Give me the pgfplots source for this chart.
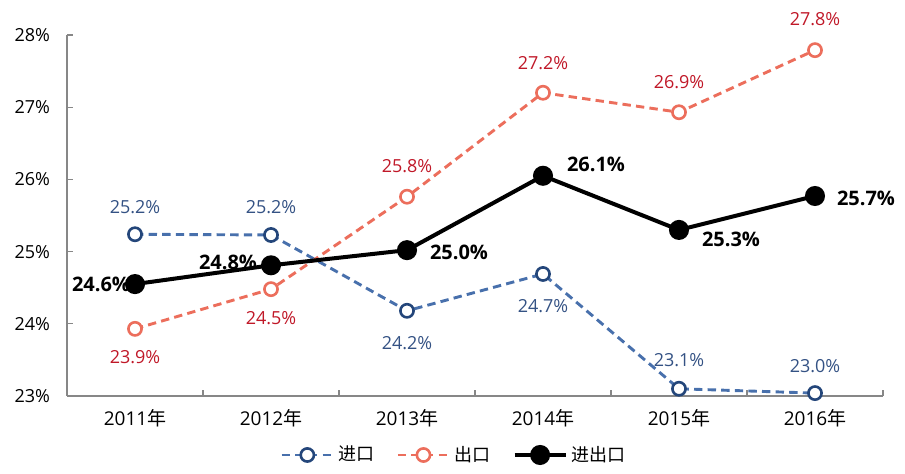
\documentclass[border=0pt]{standalone}
\usepackage{pgfplots}
\pgfplotsset{compat=1.18}
\usepackage{pgfplotstable}
\usepackage{fontspec}
\setmainfont{Open Sans}
\newfontfamily\cjk{Noto Sans CJK SC}
\definecolor{bline}{RGB}{72,112,172}
\definecolor{bmark}{RGB}{36,70,122}
\definecolor{blab}{RGB}{52,82,132}
\definecolor{oline}{RGB}{236,110,92}
\definecolor{olab}{RGB}{192,24,40}
\definecolor{axgray}{RGB}{135,135,135}

\pgfplotstableread{
x y lab dx dy
0 25.24 25.2 0 13.5
1 25.23 25.2 0 14
2 24.18 24.2 0 -16
3 24.69 24.7 0 -16
4 23.10 23.1 0 14.5
5 23.04 23.0 0 13.5
}\imp
\pgfplotstableread{
x y lab dx dy
0 23.93 23.9 0 -14
1 24.48 24.5 0 -14.5
2 25.76 25.8 0 15.5
3 27.20 27.2 0 15
4 26.93 26.9 0 15
5 27.79 27.8 0 15.5
}\exp
\pgfplotstableread{
x y lab dx dy
0 24.55 24.6 -17 0
1 24.81 24.8 -21.5 1.5
2 25.02 25.0 26 -1
3 26.05 26.1 26.5 5.5
4 25.30 25.3 26 -4.5
5 25.77 25.7 25.5 -1
}\tot

\begin{document}
\begin{tikzpicture}
\begin{axis}[
  name=ax,
  scale only axis=true,
  width=408pt, height=180.5pt,
  xmin=-0.5, xmax=5.5,
  ymin=23, ymax=28,
  axis x line*=bottom, axis y line*=left,
  axis line style={axgray, line width=0.6pt, -},
  xtick={0,1,2,3,4,5},
  xticklabels={2011{\cjk 年},2012{\cjk 年},2013{\cjk 年},2014{\cjk 年},2015{\cjk 年},2016{\cjk 年}},
  major x tick style={draw=none},
  minor xtick={-0.5,0.5,1.5,2.5,3.5,4.5,5.5},
  minor x tick style={axgray, line width=0.6pt},
  minor tick length=3pt,
  ytick={23,24,25,26,27,28},
  yticklabel={\pgfmathprintnumber{\tick}\%},
  y tick style={axgray, line width=0.6pt},
  major tick length=3pt,
  tick align=inside,
  /pgf/number format/assume math mode=true,
  ticklabel style={font=\fontsize{9}{11}\selectfont, text=black},
  yticklabel style={xshift=-5pt},
  xticklabel style={yshift=-3pt, font=\fontsize{9.5}{11}\selectfont},
  legend style={
    at={(axis description cs:0.5,0)}, anchor=center, yshift=-29.5pt, xshift=-10pt,
    draw=none, fill=none, legend columns=-1,
    font=\fontsize{9}{11}\selectfont\cjk,
    /tikz/every even column/.append style={column sep=9pt},
    inner sep=0pt,
  },
  legend image code/.code={\draw[mark repeat=2,mark phase=2] plot coordinates {(0cm,0cm) (0.45cm,0cm) (0.9cm,0cm)};},
  nodes near coords={\pgfmathprintnumber[fixed,precision=1,fixed zerofill]{\pgfplotspointmeta}\%},
  point meta=explicit,
  visualization depends on={\thisrow{dx} \as \mydx},
  visualization depends on={\thisrow{dy} \as \mydy},
  every node near coord/.append style={anchor=center, xshift=\mydx pt, yshift=\mydy pt, font=\fontsize{9}{11}\selectfont},
  clip=false,
]
\addplot[bline, dashed, dash pattern=on 4.2pt off 2.6pt, line width=1.45pt,
  mark=*, mark size=3.3pt, mark options={solid, draw=bmark, fill=white, line width=1.3pt},
  nodes near coords style={text=blab}]
  table[x=x, y=y, meta=lab] {\imp};
\addlegendentry{进口}
\addplot[oline, dashed, dash pattern=on 4.2pt off 2.6pt, line width=1.45pt,
  mark=*, mark size=3.3pt, mark options={solid, draw=oline, fill=white, line width=1.3pt},
  nodes near coords style={text=olab}]
  table[x=x, y=y, meta=lab] {\exp};
\addlegendentry{出口}
\addplot[black, line width=2pt,
  mark=*, mark size=4pt, mark options={solid, fill=black},
  nodes near coords style={text=black, font=\fontsize{10}{12}\selectfont\bfseries}]
  table[x=x, y=y, meta=lab] {\tot};
\addlegendentry{进出口}
\end{axis}
\pgfresetboundingbox
\path ([xshift=-33.5pt, yshift=-39pt]ax.south west) rectangle ([xshift=11pt, yshift=17.5pt]ax.north east);
\end{tikzpicture}
\end{document}
